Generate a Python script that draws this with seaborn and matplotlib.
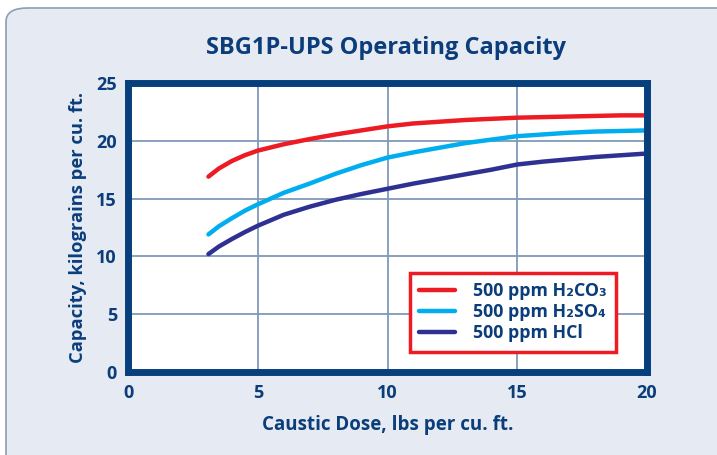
import matplotlib
matplotlib.use("Agg")
import matplotlib.pyplot as plt
import seaborn as sns
import pandas as pd
from matplotlib.patches import FancyBboxPatch

# ---- data ----
dose = [3.1, 3.5, 4, 4.5, 5, 6, 7, 8, 9, 10, 11, 12, 13, 14, 15, 16, 17, 18, 19, 20]
h2co3 = [16.9, 17.6, 18.25, 18.75, 19.15, 19.7, 20.15, 20.55, 20.9, 21.25, 21.5, 21.65, 21.8, 21.9, 22.0, 22.05, 22.1, 22.15, 22.2, 22.2]
h2so4 = [11.9, 12.6, 13.3, 13.95, 14.5, 15.5, 16.3, 17.15, 17.9, 18.55, 19.0, 19.4, 19.8, 20.1, 20.4, 20.55, 20.7, 20.8, 20.85, 20.9]
hcl = [10.2, 10.85, 11.5, 12.1, 12.65, 13.6, 14.3, 14.9, 15.4, 15.85, 16.3, 16.7, 17.1, 17.5, 17.95, 18.2, 18.4, 18.6, 18.75, 18.9]
series_names = ["500 ppm H₂CO₃", "500 ppm H₂SO₄", "500 ppm HCl"]
colors = ["#ed1c24", "#00aeef", "#2e3192"]
x_ticks = [0, 5, 10, 15, 20]
y_ticks = [0, 5, 10, 15, 20, 25]

rows = []
for name, vals in zip(series_names, [h2co3, h2so4, hcl]):
    for x, y in zip(dose, vals):
        rows.append({"dose": x, "capacity": y, "series": name})
df = pd.DataFrame(rows)

sns.set_style("white")
plt.rcParams["font.family"] = ["Open Sans", "DejaVu Sans"]

navy = "#0a3d7a"
bg = "#e6ebf3"

fig = plt.figure(figsize=(7.17, 4.55), dpi=100)
fig.patch.set_facecolor("white")
frame = FancyBboxPatch((6 / 717, -0.05), 1.2, (455 - 8) / 455 + 0.05,
                       boxstyle="round,pad=0,rounding_size=0.03",
                       transform=fig.transFigure, facecolor=bg,
                       edgecolor="#8f9db3", linewidth=1.2, zorder=-10)
fig.patches.append(frame)

ax = fig.add_axes([128 / 717, 1 - 372 / 455, (647 - 128) / 717, (372 - 83) / 455])
ax.set_zorder(5)
ax.set_facecolor("white")

sns.lineplot(data=df, x="dose", y="capacity", hue="series",
             palette=dict(zip(series_names, colors)), linewidth=3.2,
             ax=ax, legend=True)

ax.set_xlim(0, 20)
ax.set_ylim(0, 25)
ax.set_xticks(x_ticks)
ax.set_yticks(y_ticks)
ax.grid(True, color="#7f9ab8", linewidth=1.3)
ax.set_axisbelow(True)
for s in ax.spines.values():
    s.set_color("#073f7d")
    s.set_linewidth(5)
ax.tick_params(axis="both", length=0, labelsize=13, labelcolor=navy)
for lab in ax.get_xticklabels() + ax.get_yticklabels():
    lab.set_fontweight("bold")
ax.tick_params(axis="x", pad=9)
ax.tick_params(axis="y", pad=8)

ax.set_xlabel("Caustic Dose, lbs per cu. ft.", fontsize=13.5, fontweight="bold",
              color=navy, labelpad=9)
ax.set_ylabel("Capacity, kilograins per cu. ft.", fontsize=13.2, fontweight="bold",
              color=navy, labelpad=7)
fig.text(386 / 717, 1 - 48 / 455, "SBG1P-UPS Operating Capacity", ha="center", va="center",
         fontsize=17, fontweight="bold", color=navy)

leg = ax.legend(loc="lower right", bbox_to_anchor=(0.958, 0.04), frameon=True,
                fancybox=False, fontsize=12.8, handlelength=2.0, handletextpad=1.0,
                labelspacing=0.15, borderpad=0.55, title=None)
leg.get_frame().set_edgecolor("#ed1c24")
leg.get_frame().set_linewidth(2.5)
leg.get_frame().set_facecolor("white")
leg.get_frame().set_alpha(1)
for t in leg.get_texts():
    t.set_color(navy)
    t.set_fontweight("bold")
for l in leg.get_lines():
    l.set_linewidth(3.2)

fig.savefig("out.png", dpi=100, facecolor=fig.get_facecolor())
